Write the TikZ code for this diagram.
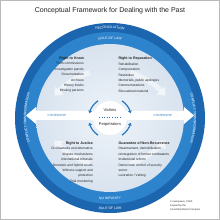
\documentclass[tikz,border=0pt]{standalone}
\usepackage{fontspec}
\setmainfont{Liberation Sans}
\usetikzlibrary{decorations.text,arrows.meta,calc}
\definecolor{ringdark}{HTML}{1C66AF}
\definecolor{ringlight}{HTML}{2D84CC}
\definecolor{diskc}{HTML}{D8E3EF}
\definecolor{diskin}{HTML}{EEF3F9}
\definecolor{txtc}{HTML}{222222}
\definecolor{blu}{HTML}{2A78C2}
\newcommand{\qhead}[1]{{\fontsize{3.6}{5.4}\selectfont\bfseries #1}}
\newcommand{\ringfnt}{\color{white}\fontsize{3.4}{4}\selectfont}
\begin{document}
\begin{tikzpicture}[x=1pt,y=1pt,
  ringtxt/.style={decorate,decoration={text along path,text align=center,text={|\ringfnt|#1}}},
  qtxt/.style={font=\fontsize{3.3}{5.4}\selectfont, text=txtc, inner sep=0pt},
  bigarrow/.style={white, opacity=0.5, line width=5pt, -{Triangle[length=7pt 0 0,width=12pt 0 0]}},
  smallarc/.style={blu, line width=1.2pt, -{Triangle[length=2.6pt 0 0,width=3.6pt 0 0]}},
  citi/.style={font=\fontsize{3}{3}\selectfont, text=blu, inner sep=0pt}]
\useasboundingbox (0,0) rectangle (220,220);
\fill[white] (0,0) rectangle (220,220);
\draw[gray!55, line width=0.8pt] (0.4,0.4) rectangle (219.6,219.6);
\coordinate (C) at (110,102);
\node[font=\fontsize{7}{8}\selectfont, text=txtc] (title) at (110,209) {Conceptual Framework for Dealing with the Past};
% rings
\fill[ringdark] (C) circle[radius=95];
\fill[ringlight] (C) circle[radius=86];
\shade[inner color=diskin, outer color=diskc] (C) circle[radius=74];
% white band
\fill[white] (26,104.5) -- (36,113) -- (36,109) -- (184,109) -- (184,113) -- (194,104.5) -- (184,96) -- (184,100) -- (36,100) -- (36,96) -- cycle;
% big faint arrows
\draw[bigarrow] ($(C)+(114:50)$) to[bend right=12] ($(C)+(158:60)$);
\draw[bigarrow] ($(C)+(66:50)$) to[bend left=12] ($(C)+(22:60)$);
\draw[bigarrow] ($(C)+(246:50)$) to[bend left=12] ($(C)+(202:60)$);
\draw[bigarrow] ($(C)+(294:50)$) to[bend right=12] ($(C)+(338:60)$);
% ring labels
\path[ringtxt={RECONCILIATION}] ($(C)+(150:89.3)$) arc[start angle=150,end angle=30,radius=89.3];
\path[ringtxt={RULE OF LAW}] ($(C)+(150:78.8)$) arc[start angle=150,end angle=30,radius=78.8];
\path[ringtxt={NO IMPUNITY}] ($(C)+(210:81.8)$) arc[start angle=210,end angle=330,radius=81.8];
\path[ringtxt={RULE OF LAW}] ($(C)+(210:91.8)$) arc[start angle=210,end angle=330,radius=91.8];
\path[ringtxt={CONFLICT TRANSFORMATION}] ($(C)+(240:83.8)$) arc[start angle=240,end angle=120,radius=83.8];
\path[ringtxt={CONFLICT TRANSFORMATION}] ($(C)+(60:83.8)$) arc[start angle=60,end angle=-60,radius=83.8];
% citizenship
\node[citi] (cit1) at (57,104.5) {CITIZENSHIP};
\node[citi] (cit2) at (163,104.5) {CITIZENSHIP};
% centre
\fill[white] (C) circle[radius=17];
\draw[smallarc] ($(C)+(125:21)$) arc[start angle=125,end angle=167,radius=21];
\draw[smallarc] ($(C)+(55:21)$) arc[start angle=55,end angle=13,radius=21];
\draw[smallarc] ($(C)+(-55:21)$) arc[start angle=-55,end angle=-13,radius=21];
\draw[smallarc] ($(C)+(235:21)$) arc[start angle=235,end angle=193,radius=21];
\node[font=\fontsize{4}{4}\selectfont, text=txtc] (vic) at (110,109.5) {Victims};
\node[font=\fontsize{4}{4}\selectfont, text=txtc] (per) at (110,95.5) {Perpetrators};
\coordinate (dl) at (99,102.5);
\coordinate (dr) at (121,102.5);
\draw[blu, line width=0.6pt, dotted] (dl) -- (dr);
% quadrants
\node[qtxt, align=right, anchor=north east] (know) at (84,163.4) {\qhead{Right to Know}\\Truth commissions\\Investigation panels\\Documentation\\Archives\\History books\\Missing persons};
\node[qtxt, align=left, anchor=north west] (repar) at (118.3,163) {\qhead{Right to Reparation}\\Rehabilitation\\Compensation\\Restitution\\Memorials, public apologies\\Commemorations\\Educational material};
\node[qtxt, align=right, anchor=north east] (just) at (93,78.4) {\qhead{Right to Justice}\\Civil lawsuits and alternative\\dispute mechanisms\\International tribunals\\Domestic and hybrid courts\\Witness support and\\protection\\Trial monitoring};
\node[qtxt, align=left, anchor=north west] (nonrec) at (118.3,78.4) {\qhead{Guarantee of Non-Recurrence}\\Disarmament, demobilization\\reintegration of former combatants\\Institutional reform\\Democratic control of security\\sector\\Lustration / Vetting};
% footnote
\node[font=\fontsize{2.4}{4}\selectfont, text=txtc, align=left, anchor=north west, inner sep=0pt] (foot) at (170,19.8) {© swisspeace, FDFA\\inspired by the\\Joinet/Orentlicher Principles};
\end{tikzpicture}
\end{document}
